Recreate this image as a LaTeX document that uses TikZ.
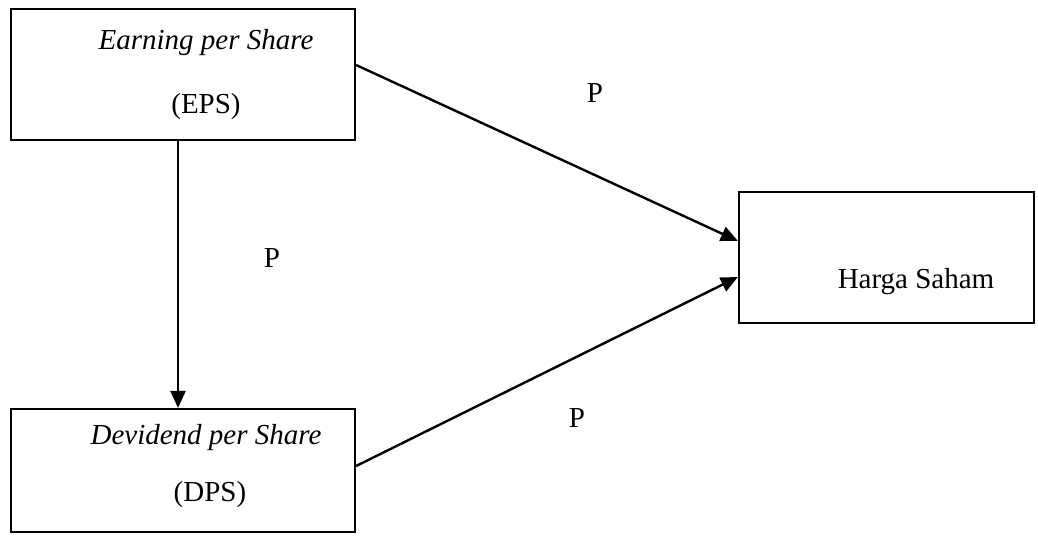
\documentclass[tikz,border=0pt]{standalone}
\usepackage{fontspec}
\setmainfont{Liberation Serif}
\usetikzlibrary{arrows.meta}
\begin{document}
\begin{tikzpicture}[x=1pt,y=-1pt,
  box/.style={draw,line width=2.2pt,inner sep=0pt},
  lbl/.style={font=\fontsize{29}{34}\selectfont,inner sep=0pt},
  arr/.style={line width=2.4pt,-{Triangle[length=17pt,width=15pt]}}]
\useasboundingbox (0,0) rectangle (1038,541);
\node[box,minimum width=344pt,minimum height=131pt] (eps) at (183,74.5) {};
\node[box,minimum width=344pt,minimum height=123pt] (dps) at (183,470.5) {};
\node[box,minimum width=295pt,minimum height=131pt] (hs) at (886.5,257.5) {};
\node[lbl] (t1) at (206,43) {\itshape Earning per Share};
\node[lbl] (t2) at (206,107) {(EPS)};
\node[lbl] (t3) at (206,438) {\itshape Devidend per Share};
\node[lbl] (t4) at (210,495) {(DPS)};
\node[lbl] (t5) at (916,282) {Harga Saham};
\node[lbl] (p1) at (595,93) {P};
\node[lbl] (p2) at (272,258) {P};
\node[lbl] (p3) at (577,418) {P};
\draw[arr] ([xshift=-5pt]eps.south) -- ([xshift=-5pt]dps.north);
\draw[arr] ([yshift=9.5pt]eps.east) -- ([yshift=16.5pt]hs.west);
\draw[arr] ([yshift=4.5pt]dps.east) -- ([yshift=-19.5pt]hs.west);
\end{tikzpicture}
\end{document}
